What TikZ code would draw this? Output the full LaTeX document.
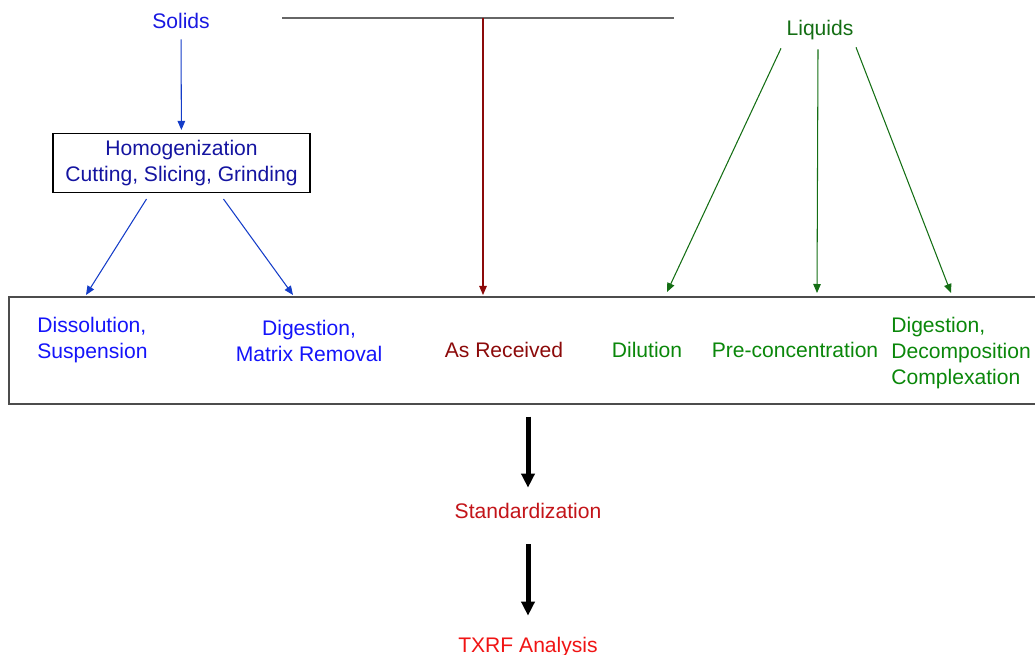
\documentclass[tikz,border=0pt]{standalone}
\usepackage{fontspec}
\setmainfont{Liberation Sans}
\definecolor{solidblue}{RGB}{25, 25, 225}
\definecolor{homogblue}{RGB}{20, 20, 160}
\definecolor{boxblue}{RGB}{20, 20, 250}
\definecolor{arrblue}{RGB}{20, 60, 200}
\definecolor{recvred}{RGB}{140, 10, 10}
\definecolor{liqgreen}{RGB}{20, 110, 20}
\definecolor{boxgreen}{RGB}{10, 135, 10}
\definecolor{stdred}{RGB}{195, 20, 25}
\definecolor{txrfred}{RGB}{240, 20, 20}
\usetikzlibrary{arrows.meta}

\begin{document}
\begin{tikzpicture}[
    x=0.2mm, y=-0.2mm,
    txt/.style={font=\fontsize{12}{14.8}\selectfont, text height=9pt, text depth=2.5pt},
    multi/.style={font=\fontsize{12}{14.8}\selectfont, inner sep=0pt},
    thinarr/.style={-{Triangle[length=1.8mm, width=1.5mm]}, line width=0.6pt},
    bigarr/.style={-{Triangle[length=2.8mm, width=2.6mm]}, line width=1mm, black}
  ]
    \useasboundingbox (0,0) rectangle (1035,655);

    \node[txt, text=solidblue] (solids) at (181,23) {Solids};
    \node[txt, text=liqgreen] (liquids) at (820,30) {Liquids};

    \node[draw, line width=0.6pt, minimum width=51.4mm, minimum height=11.8mm,
          align=center, multi, text=homogblue] (homog) at (181.5,163) {
      Homogenization\\
      Cutting, Slicing, Grinding
    };

    \node[draw, draw=black!70, line width=0.6pt, inner sep=0pt,
          minimum width=206.2mm, minimum height=21.4mm] (stage) at (524.5,350.5) {};

    \node[multi, anchor=west, align=left, text=boxblue] (dissol) at (37,340.5) {
      Dissolution,\\ Suspension
    };
    \node[multi, align=center, text=boxblue] (digest) at (309,341) {
      Digestion,\\ Matrix Removal
    };
    \node[txt, text=recvred] (recv) at (504,352) {As Received};
    \node[txt, text=boxgreen] (dilut) at (647,352) {Dilution};
    \node[txt, text=boxgreen] (precon) at (795,352) {Pre-concentration};
    \node[multi, anchor=west, align=left, text=boxgreen] (decomp) at (891,353) {
      Digestion,\\ Decomposition\\ Complexation
    };

    \node[txt, text=stdred] (stdz) at (528,513) {Standardization};
    \node[txt, text=txrfred] (txrf) at (528,647) {TXRF Analysis};

    % entry points on the top edge of the stage box
    \coordinate (in1) at (86,295);
    \coordinate (in2) at (293,295);
    \coordinate (in3) at (483,295);
    \coordinate (in4) at (667,292);
    \coordinate (in5) at (817,293);
    \coordinate (in6) at (951,293);
    \coordinate (barl) at (282,18);
    \coordinate (barm) at (483,18);
    \coordinate (barr) at (674,18);

    \draw[thinarr, arrblue, shorten >=0.6mm] (solids) -- (homog);
    \draw[thinarr, arrblue] ([xshift=-7mm, yshift=-1.2mm]homog.south) -- (in1);
    \draw[thinarr, arrblue] ([xshift=8.4mm, yshift=-1.2mm]homog.south) -- (in2);

    \draw[black!60, line width=0.7pt] (barl) -- (barr);
    \draw[thinarr, recvred] (barm) -- (in3);

    \draw[thinarr, liqgreen] ([xshift=-7.8mm, yshift=-0.4mm]liquids.south) -- (in4);
    \draw[thinarr, liqgreen] ([xshift=-0.4mm, yshift=-0.6mm]liquids.south) -- (in5);
    \draw[thinarr, liqgreen] ([xshift=7.2mm, yshift=-0.2mm]liquids.south) -- (in6);

    \draw[bigarr, shorten <=2.4mm, shorten >=1.8mm] (stage.south -| stdz) -- (stdz.north);
    \draw[bigarr, shorten <=3mm, shorten >=3mm] (stdz.south) -- (txrf.north);
  \end{tikzpicture}
\end{document}
